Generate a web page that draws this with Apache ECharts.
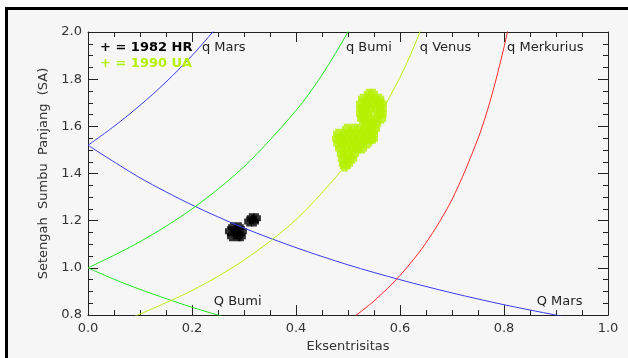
<!DOCTYPE html>
<html>
<head>
<meta charset="utf-8">
<script src="https://cdn.jsdelivr.net/npm/echarts@6/dist/echarts.min.js"></script>
<style>html,body{margin:0;padding:0;background:#fff}#c{width:628px;height:358px}</style>
</head>
<body>
<div id="c"></div>
<script>
// ---- data ----
const xTicks = [0.0, 0.2, 0.4, 0.6, 0.8, 1.0];
const yTicks = [0.8, 1.0, 1.2, 1.4, 1.6, 1.8, 2.0];

// perihelion / aphelion curves [eccentricity, semi-major axis]
const qMars = [[0,1.52],[0.05,1.6],[0.1,1.689],[0.15,1.788],[0.2,1.9],[0.24,2.0],[0.26,2.054]];
const QMars = [[0,1.52],[0.1,1.382],[0.2,1.267],[0.3,1.169],[0.4,1.086],[0.5,1.013],[0.6,0.95],[0.7,0.894],[0.8,0.844],[0.9,0.8],[0.92,0.792]];
const qBumi = [[0,1.0],[0.1,1.111],[0.2,1.25],[0.3,1.429],[0.4,1.667],[0.45,1.818],[0.5,2.0],[0.52,2.083]];
const QBumi = [[0,1.0],[0.05,0.952],[0.1,0.909],[0.15,0.87],[0.2,0.833],[0.25,0.8],[0.26,0.794]];
const qVenus = [[0.09,0.795],[0.2,0.904],[0.3,1.033],[0.4,1.205],[0.5,1.446],[0.55,1.607],[0.6,1.808],[0.625,1.928],[0.65,2.066]];
const qMerkurius = [[0.51,0.79],[0.55,0.86],[0.6,0.968],[0.65,1.106],[0.7,1.29],[0.75,1.548],[0.775,1.72],[0.8,1.935],[0.815,2.092]];

// asteroid clone clouds
const hr1982 = [
  [0.279,1.172],[0.290,1.172],
  [0.273,1.155],[0.285,1.155],[0.296,1.155],
  [0.277,1.134],[0.288,1.134],[0.294,1.134],
  [0.315,1.210],[0.323,1.210],
  [0.310,1.197],[0.319,1.197]
];
const ua1990 = [
  [0.540,1.738],[0.548,1.738],
  [0.529,1.717],[0.540,1.717],[0.552,1.717],[0.560,1.717],
  [0.525,1.696],[0.537,1.696],[0.548,1.696],[0.560,1.696],[0.565,1.696],
  [0.525,1.675],[0.531,1.675],[0.542,1.675],[0.554,1.675],[0.565,1.675],
  [0.525,1.653],[0.537,1.653],[0.560,1.653],[0.565,1.653],
  [0.527,1.632],[0.531,1.632],[0.542,1.632],[0.554,1.632],[0.564,1.632],
  [0.535,1.611],[0.546,1.611],[0.554,1.611],
  [0.498,1.590],[0.510,1.590],[0.521,1.590],[0.533,1.590],[0.544,1.590],[0.552,1.590],
  [0.481,1.569],[0.492,1.569],[0.504,1.569],[0.515,1.569],[0.527,1.569],[0.538,1.569],[0.548,1.569],
  [0.479,1.548],[0.487,1.548],[0.498,1.548],[0.510,1.548],[0.521,1.548],[0.533,1.548],[0.544,1.548],[0.548,1.548],
  [0.481,1.527],[0.492,1.527],[0.504,1.527],[0.515,1.527],[0.527,1.527],[0.537,1.527],
  [0.485,1.506],[0.496,1.506],[0.508,1.506],[0.519,1.506],[0.527,1.506],
  [0.488,1.484],[0.500,1.484],[0.512,1.484],
  [0.490,1.463],[0.502,1.463],[0.508,1.463],
  [0.492,1.442],[0.500,1.442],
  [0.494,1.430]
];

const curveLabels = [
  {text:'q Mars', at:[0.219,1.932]},
  {text:'q Bumi', at:[0.496,1.932]},
  {text:'q Venus', at:[0.638,1.932]},
  {text:'q Merkurius', at:[0.806,1.932]},
  {text:'Q Bumi', at:[0.242,0.855]},
  {text:'Q Mars', at:[0.863,0.855]}
];

// ---- chart ----
const FF = 'DejaVu Sans';
const AX = '#222';
const blob = 'path://M2,0h6v2h2v6h-2v2h-6v-2h-2v-6h2z';

function axisBase(extra){
  return Object.assign({
    type:'value',
    axisLine:{show:true,onZero:false,lineStyle:{color:AX,width:1}},
    axisTick:{show:true,inside:true,length:10,lineStyle:{color:AX}},
    minorTick:{show:true,splitNumber:4,length:5,lineStyle:{color:AX}},
    splitLine:{show:false},
    minorSplitLine:{show:false}
  }, extra);
}
const labelStyle = {color:'#333',fontSize:13,fontFamily:FF,formatter:v=>v.toFixed(1)};

const chart = echarts.init(document.getElementById('c'), null, {renderer:'canvas'});
const option = {
  animation:false,
  backgroundColor:'#f6f6f6',
  grid:{left:88,right:20,top:32,bottom:42},
  xAxis:[
    axisBase({min:xTicks[0],max:xTicks[xTicks.length-1],interval:0.2,position:'bottom',
      axisLabel:Object.assign({margin:7},labelStyle),
      name:'Eksentrisitas',nameLocation:'middle',nameGap:21,
      nameTextStyle:{color:'#333',fontSize:13,fontFamily:FF}}),
    axisBase({min:xTicks[0],max:xTicks[xTicks.length-1],interval:0.2,position:'top',axisLabel:{show:false}})
  ],
  yAxis:[
    axisBase({min:yTicks[0],max:yTicks[yTicks.length-1],interval:0.2,position:'left',
      axisLabel:Object.assign({margin:6},labelStyle),
      name:'Setengah  Sumbu  Panjang  (SA)',nameLocation:'middle',nameGap:30,
      nameTextStyle:{color:'#333',fontSize:13,fontFamily:FF}}),
    axisBase({min:yTicks[0],max:yTicks[yTicks.length-1],interval:0.2,position:'right',axisLabel:{show:false}})
  ],
  series:[
    {type:'scatter',data:hr1982,symbol:blob,symbolSize:10,itemStyle:{color:'#000'},z:3,silent:true},
    {type:'scatter',data:ua1990,symbol:blob,symbolSize:10,itemStyle:{color:'#b5f000'},z:3,silent:true},
    {type:'line',data:qMars,smooth:0.3,showSymbol:false,lineStyle:{color:'#3c3cf0',width:1},z:5},
    {type:'line',data:QMars,smooth:0.3,showSymbol:false,lineStyle:{color:'#3c3cf0',width:1},z:5},
    {type:'line',data:qBumi,smooth:0.3,showSymbol:false,lineStyle:{color:'#22e622',width:1},z:5},
    {type:'line',data:QBumi,smooth:0.3,showSymbol:false,lineStyle:{color:'#22e622',width:1},z:5},
    {type:'line',data:qVenus,smooth:0.3,showSymbol:false,lineStyle:{color:'#bbee11',width:1},z:5},
    {type:'line',data:qMerkurius,smooth:0.3,showSymbol:false,lineStyle:{color:'#ff2a2a',width:1},z:5}
  ]
};
chart.setOption(option);

const graphics = [
  {type:'rect',shape:{x:0,y:0,width:628,height:7},style:{fill:'#fff'},silent:true},
  {type:'rect',shape:{x:0,y:0,width:5,height:358},style:{fill:'#fff'},silent:true},
  {type:'rect',shape:{x:5,y:7,width:623,height:3},style:{fill:'#000'},silent:true},
  {type:'rect',shape:{x:5,y:7,width:3,height:351},style:{fill:'#000'},silent:true},
  {type:'text',x:100,y:48,style:{text:'+ = 1982 HR',fill:'#000',font:'bold 13px "DejaVu Sans"',verticalAlign:'middle'},z:10},
  {type:'text',x:100,y:64,style:{text:'+ = 1990 UA',fill:'#b5f000',font:'bold 13px "DejaVu Sans"',verticalAlign:'middle'},z:10}
];
curveLabels.forEach(l=>{
  const p = chart.convertToPixel({gridIndex:0}, l.at);
  graphics.push({type:'text',x:p[0],y:p[1],style:{text:l.text,fill:'#222',font:'13px "DejaVu Sans"',verticalAlign:'middle'},z:10});
});
chart.setOption({graphic:graphics});
</script>
</body>
</html>
